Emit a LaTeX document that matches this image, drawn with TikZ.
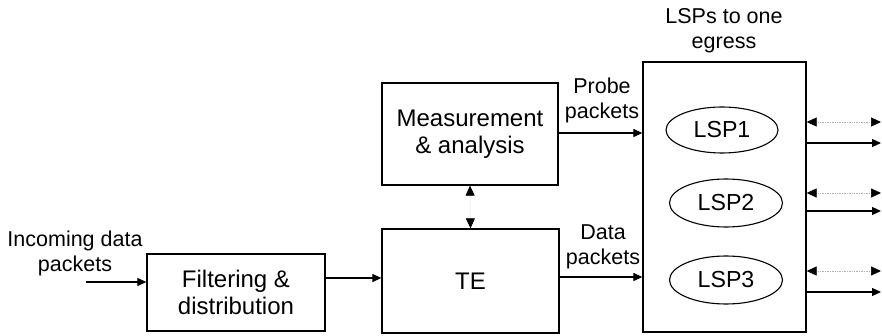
\documentclass[tikz,border=0pt]{standalone}
\usepackage{fontspec}
\setmainfont{Liberation Sans}
\usetikzlibrary{arrows.meta,shapes.geometric}
\begin{document}
\begin{tikzpicture}[x=1pt,y=-1pt,
  blk/.style={draw,line width=1.3pt,minimum width=#1,inner sep=0pt,font=\fontsize{24}{27}\selectfont,align=center},
  lbl/.style={inner sep=0pt,font=\fontsize{21.5}{25}\selectfont,align=center},
  lsp/.style={draw,ellipse,line width=1.1pt,inner sep=0pt,minimum width=113pt,minimum height=48pt,font=\fontsize{23.2}{26}\selectfont},
  arr/.style={line width=1.2pt,-{Triangle[length=9pt,width=8pt]}},
  darr/.style={densely dotted,line width=0.7pt,draw=gray!60,{Triangle[length=10pt,width=9pt,color=black,fill=black]}-{Triangle[length=10pt,width=9pt,color=black,fill=black]}},
]
\useasboundingbox (0,0) rectangle (882,336);
% blocks
\node[blk=178pt,minimum height=77pt] (filt) at (236,292.5) {Filtering \&\\distribution};
\node[blk=177pt,minimum height=104pt] (te) at (470.5,281) {TE};
\node[blk=176pt,minimum height=102pt] (meas) at (470,134) {Measurement\\\& analysis};
\node[blk=163pt,minimum height=270pt] (big) at (724.5,197) {};
% LSP ellipses
\node[lsp,minimum width=112pt,minimum height=46pt] (l1) at (722,130) {LSP1};
\node[lsp] (l2) at (726,203) {LSP2};
\node[lsp] (l3) at (726,280) {LSP3};
% labels
\node[lbl] (tin) at (75,253.5) {Incoming data\\packets};
\node[lbl] (tprobe) at (602,100) {Probe\\packets};
\node[lbl] (tdata) at (603,246.5) {Data\\packets};
\node[lbl] (ttitle) at (724,31) {LSPs to one\\egress};
% connectors
\coordinate (in) at (86,282);
\draw[arr] (in) -- (filt.west |- in);
\coordinate (ft) at (325,278);
\draw[arr] (filt.east |- ft) -- (te.west |- ft);
\coordinate (dp) at (560,277);
\draw[arr] (te.east |- dp) -- (big.west |- dp);
\coordinate (pp) at (560,133);
\draw[arr] (meas.east |- pp) -- (big.west |- pp);
\draw[darr,draw=gray!25] (meas.south) -- (te.north);
% outputs
\foreach \n/\yd/\ys in {1/122/143, 2/193/211, 3/271/292}{
  \coordinate (d\n) at (881,\yd);
  \coordinate (s\n) at (881,\ys);
  \draw[darr] (big.east |- d\n) -- (d\n);
  \draw[arr] (big.east |- s\n) -- (s\n);
}
\end{tikzpicture}
\end{document}
